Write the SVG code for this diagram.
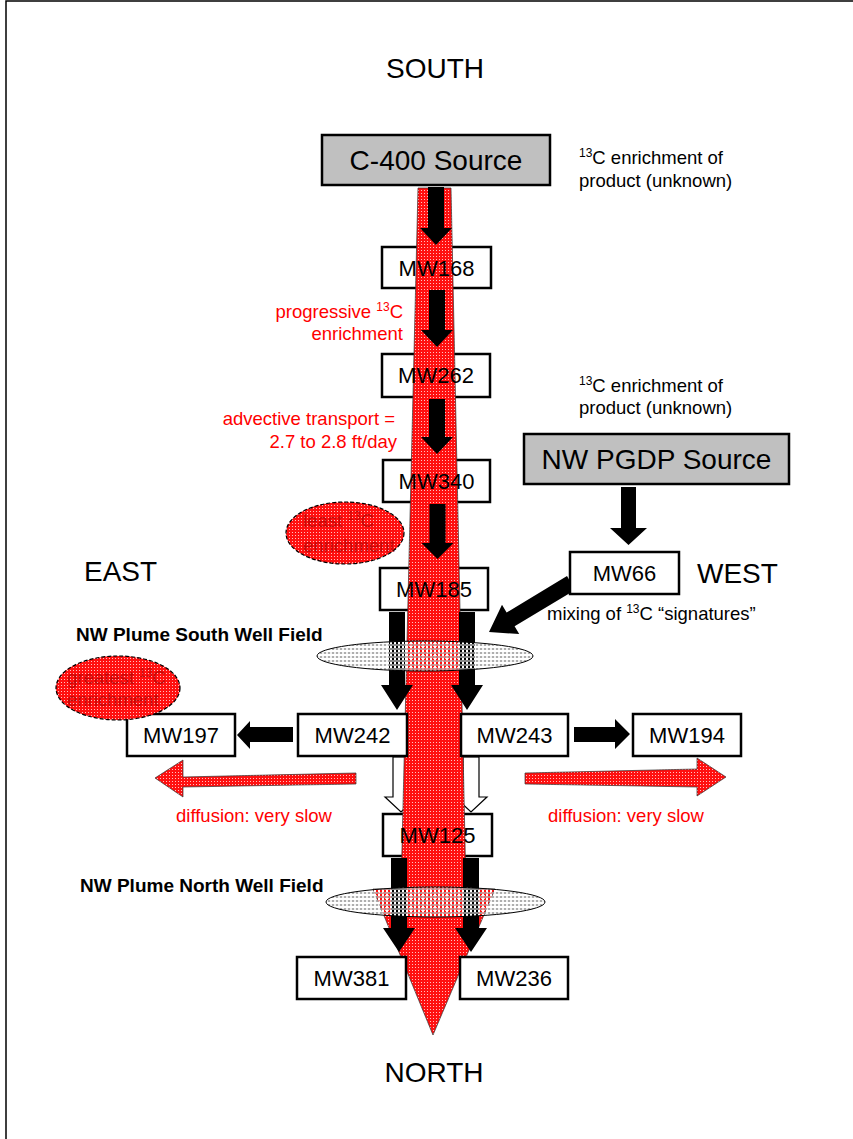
<svg xmlns="http://www.w3.org/2000/svg" width="853" height="1139" viewBox="0 0 853 1139">
<defs>
<pattern id="redPat" width="3" height="3" patternUnits="userSpaceOnUse">
<rect width="3" height="3" fill="#ff1010"/>
<rect x="1" y="1" width="1" height="1" fill="#ffc0c0"/>
</pattern>
<pattern id="grayPat" width="4" height="4" patternUnits="userSpaceOnUse">
<rect x="0" y="0" width="2" height="2" fill="#a0a0a0" fill-opacity="0.85"/>
<rect x="2" y="2" width="2" height="2" fill="#ffffff"/>
<rect x="2" y="0" width="2" height="2" fill="#e8e8e8" fill-opacity="0.6"/>
</pattern>
<style>
text{font-family:"Liberation Sans",Arial,sans-serif;fill:#000}
.big{font-size:28px}
.mw{font-size:22px;text-anchor:middle}
.sm{font-size:18.5px}
.bold{font-size:19px;font-weight:bold}
.red{fill:#ff0000}
.dred{fill:#a00000;fill-opacity:0.6}
.sup{font-size:12px}
.box{fill:#fff;stroke:#000;stroke-width:2.5}
.src{fill:#c0c0c0;stroke:#000;stroke-width:2.5}
.blk{fill:#000}
.hollow{fill:#fff;stroke:#000;stroke-width:1.2}
.redA{fill:url(#redPat);stroke:#333;stroke-width:0.7}
.field{fill:url(#grayPat);stroke:#000;stroke-width:1}
.blob{fill:url(#redPat);stroke:#000;stroke-width:1.2;stroke-dasharray:4 2}
</style>
</defs>

<path d="M6,1139 V1 H853" fill="none" stroke="#000" stroke-width="1.5"/>

<g id="labels">
<text class="big" x="435" y="78" text-anchor="middle">SOUTH</text>
<text class="big" x="434" y="1082" text-anchor="middle">NORTH</text>
<text class="big" x="84" y="581">EAST</text>
<text class="big" x="697" y="583">WEST</text>
<text class="sm" x="579" y="164"><tspan class="sup" dy="-7">13</tspan><tspan dy="7">C enrichment of</tspan></text>
<text class="sm" x="579" y="187">product (unknown)</text>
<text class="sm" x="579" y="392"><tspan class="sup" dy="-7">13</tspan><tspan dy="7">C enrichment of</tspan></text>
<text class="sm" x="579" y="414">product (unknown)</text>
<text class="sm red" x="403" y="318" text-anchor="end">progressive <tspan class="sup" dy="-7">13</tspan><tspan dy="7">C</tspan></text>
<text class="sm red" x="403" y="340" text-anchor="end">enrichment</text>
<text class="sm red" x="395" y="425" text-anchor="end">advective transport =</text>
<text class="sm red" x="397" y="448" text-anchor="end">2.7 to 2.8 ft/day</text>
<text class="sm" x="547" y="620">mixing of <tspan class="sup" dy="-7">13</tspan><tspan dy="7">C “signatures”</tspan></text>
<text class="sm red" x="176" y="822">diffusion: very slow</text>
<text class="sm red" x="548" y="822">diffusion: very slow</text>
<text class="bold" x="76" y="641">NW Plume South Well Field</text>
<text class="bold" x="80" y="892">NW Plume North Well Field</text>
</g>

<g id="boxes-under">
<rect id="MW168-box" class="box" x="382" y="247" width="109" height="41"/>
<rect id="MW262-box" class="box" x="382" y="354" width="108" height="43"/>
<rect id="MW340-box" class="box" x="383" y="460" width="107" height="42"/>
<rect id="MW185-box" class="box" x="380" y="568" width="108" height="42"/>
<rect id="MW125-box" class="box" x="383" y="814" width="109" height="42"/>
</g>

<g id="connectors">
<polygon class="hollow" points="393,757 409,757 409,797 417,797 401,812 385,797 393,797"/>
<polygon class="hollow" points="463,757 479,757 479,797 487,797 471,812 455,797 463,797"/>
<polygon class="redA" points="418,188 451,188 466,889 495,889 433,1035 373,889 401,889"/>
<polygon class="redA" points="356,773 183,777 183,760 155,778 183,797 183,787 356,784"/>
<polygon class="redA" points="525,773 697,769 697,758 726,777 697,796 697,787 525,784"/>
</g>

<g id="column-texts">
<text class="mw" x="436.5" y="276">MW168</text>
<text class="mw" x="436" y="383">MW262</text>
<text class="mw" x="436.5" y="489">MW340</text>
<text class="mw" x="434" y="597">MW185</text>
<text class="mw" x="437.5" y="843">MW125</text>
</g>

<g id="black-arrows">
<polygon class="blk" points="428,187 444,187 444,228 452,228 436,245 420,228 428,228"/>
<polygon class="blk" points="429,290 445,290 445,330 453,330 437,347 421,330 429,330"/>
<polygon class="blk" points="429,399 445,399 445,437 453,437 437,454 421,437 429,437"/>
<polygon class="blk" points="429.5,504 445.5,504 445.5,543 453.5,543 437.5,559 421.5,543 429.5,543"/>
<polygon class="blk" points="389,612 405,612 405,685 413,685 397,710 381,685 389,685"/>
<polygon class="blk" points="459,612 475,612 475,685 483,685 467,710 451,685 459,685"/>
<polygon class="blk" points="391,858 407,858 407,928 415,928 399,952 383,928 391,928"/>
<polygon class="blk" points="463,858 479,858 479,928 487,928 471,952 455,928 463,928"/>
<polygon class="blk" points="621,487 636,487 636,528 647,528 628.5,545 610,528 621,528"/>
<polygon class="blk" points="293,727 250,727 250,721 237,735 250,749 250,742 293,742"/>
<polygon class="blk" points="574,727 615,727 615,719 630,734 615,749 615,742 574,742"/>
<polygon class="blk" points="575,590 514.6,626.3 519.2,634.1 489,632 502,604.7 506.6,612.5 567,576"/>
</g>

<g id="well-fields">
<ellipse id="south-field" class="field" cx="425" cy="656" rx="108" ry="15"/>
<ellipse id="north-field" class="field" cx="435.5" cy="902" rx="109.5" ry="15"/>
</g>

<g id="C400">
<rect class="src" x="322" y="135" width="228" height="50"/>
<text class="big" x="436" y="170" text-anchor="middle">C-400 Source</text>
</g>
<g id="NWPGDP">
<rect class="src" x="524" y="434" width="265" height="50"/>
<text class="big" x="656.5" y="469" text-anchor="middle">NW PGDP Source</text>
</g>
<g id="MW66">
<rect class="box" x="570" y="552" width="109" height="42"/>
<text class="mw" x="624.5" y="581">MW66</text>
</g>
<g id="MW197">
<rect class="box" x="127" y="714" width="108" height="42"/>
<text class="mw" x="181" y="743">MW197</text>
</g>
<g id="MW242">
<rect class="box" x="298" y="714" width="109" height="42"/>
<text class="mw" x="352.5" y="743">MW242</text>
</g>
<g id="MW243">
<rect class="box" x="461" y="714" width="107" height="42"/>
<text class="mw" x="514.5" y="743">MW243</text>
</g>
<g id="MW194">
<rect class="box" x="633" y="714" width="108" height="42"/>
<text class="mw" x="687" y="743">MW194</text>
</g>
<g id="MW381">
<rect class="box" x="297" y="957" width="109" height="42"/>
<text class="mw" x="351.5" y="986">MW381</text>
</g>
<g id="MW236">
<rect class="box" x="460" y="957" width="108" height="42"/>
<text class="mw" x="514" y="986">MW236</text>
</g>

<g id="least-enrichment">
<ellipse class="blob" cx="345" cy="533" rx="59" ry="31"/>
<text class="sm dred" x="303" y="527">least <tspan class="sup" dy="-7">13</tspan><tspan dy="7">C</tspan></text>
<text class="sm dred" x="303" y="552">enrichment</text>
</g>
<g id="greatest-enrichment">
<ellipse class="blob" cx="118" cy="688" rx="62" ry="32"/>
<text class="sm dred" x="67" y="684">greatest <tspan class="sup" dy="-7">13</tspan><tspan dy="7">C</tspan></text>
<text class="sm dred" x="67" y="706">enrichment</text>
</g>
</svg>
